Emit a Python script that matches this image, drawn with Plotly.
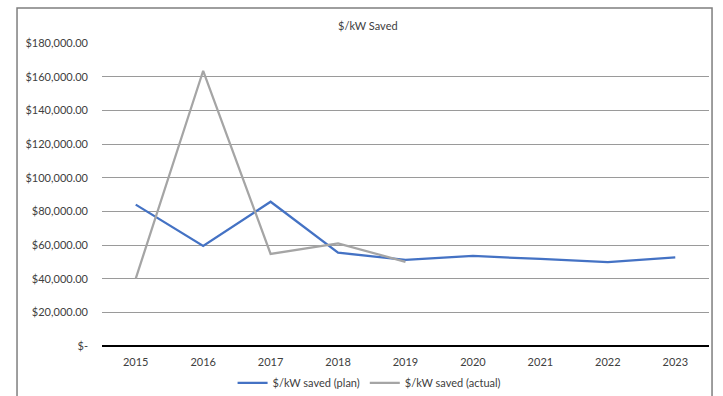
import plotly.graph_objects as go

years = ["2015", "2016", "2017", "2018", "2019", "2020", "2021", "2022", "2023"]
plan = [84000, 59500, 85700, 55400, 51200, 53500, 51700, 49800, 52700]
actual_years = ["2015", "2016", "2017", "2018", "2019"]
actual = [40000, 163500, 54700, 61000, 50000]

y_ticks = [0, 20000, 40000, 60000, 80000, 100000, 120000, 140000, 160000, 180000]
y_tick_text = ["$-", "$20,000.00", "$40,000.00", "$60,000.00", "$80,000.00",
               "$100,000.00", "$120,000.00", "$140,000.00", "$160,000.00", "$180,000.00"]

FONT = "Lato"
FS = 11
TXT = "#404040"

fig = go.Figure()
fig.add_trace(go.Scatter(x=years, y=plan, mode="lines", name="$/kW saved (plan)",
                         line=dict(color="#4472C4", width=2.25)))
fig.add_trace(go.Scatter(x=actual_years, y=actual, mode="lines", name="$/kW saved (actual)",
                         line=dict(color="#A5A5A5", width=2.25)))

# chart frame around everything
fig.add_shape(type="rect", xref="paper", yref="paper",
              x0=-0.140, x1=1.005, y0=-0.3, y1=1.1155,
              line=dict(color="#7f7f7f", width=1.5), fillcolor="rgba(0,0,0,0)", layer="below")

fig.update_layout(
    width=723, height=396,
    margin=dict(l=102, r=14, t=43, b=50, autoexpand=False),
    paper_bgcolor="white", plot_bgcolor="white",
    font=dict(family=FONT, size=FS, color=TXT),
    title=dict(text="$/kW Saved", x=0.438, xref="paper", xanchor="center",
               y=1 - 26 / 396, yanchor="middle",
               font=dict(family=FONT, size=FS, color=TXT)),
    showlegend=True,
    legend=dict(orientation="h", x=0.44, xanchor="center", y=-0.122, yanchor="middle",
                font=dict(family=FONT, size=FS, color=TXT),
                itemwidth=30, bgcolor="rgba(0,0,0,0)"),
    xaxis=dict(type="category", range=[-0.5, 8.5], showgrid=False, zeroline=False,
               showline=False, ticks="", ticklabelstandoff=8,
               tickfont=dict(size=FS, color=TXT)),
    yaxis=dict(range=[0, 180000], tickvals=y_ticks, ticktext=y_tick_text,
               showgrid=True, gridcolor="#9a9a9a", gridwidth=1,
               zeroline=True, zerolinecolor="#000000", zerolinewidth=1.5,
               showline=False, ticks="", ticklabelstandoff=13,
               tickfont=dict(size=FS, color=TXT)),
)

fig.write_html("out.html")
